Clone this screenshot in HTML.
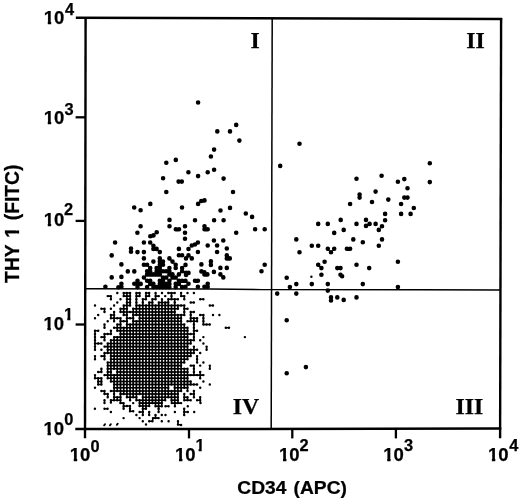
<!DOCTYPE html><html><head><meta charset="utf-8"><title>Scatter plot</title>
<style>html,body{margin:0;padding:0;background:#fff}svg{display:block}</style></head><body>
<svg width="520" height="502">
<rect width="520" height="502" fill="#fff"/>
<defs><clipPath id="c1"><path d="M-2 -20H30V6H10.4V-2.5H7.35V6H3.95V-2.5H-2Z"/></clipPath><clipPath id="c2"><path d="M-2 -20H12V-2.3H6.3V5H3.2V-2.3H-2Z"/></clipPath><clipPath id="c3"><path d="M-5 -25H125V8H56V-3.1H52.4V8H49.4V-3.1H45.2V8H-5Z"/></clipPath></defs>
<g stroke="#000" fill="none" stroke-linecap="butt">
<path d="M75.8 17.8 L502.2 19.0" stroke-width="2.4"/>
<path d="M75.3 429.1 L501.3 428.6" stroke-width="2.5"/>
<path d="M85.6 17 L85.0 438.2" stroke-width="2.4"/>
<path d="M501.1 18 L500.1 438.2" stroke-width="2.4"/>
<path d="M75.6 117.3 H85.3" stroke-width="2.3"/>
<path d="M75.6 220.9 H85.3" stroke-width="2.3"/>
<path d="M75.6 324.5 H85.3" stroke-width="2.3"/>
<path d="M189.0 428.5 V438.4" stroke-width="2.3"/>
<path d="M292.3 428.5 V438.4" stroke-width="2.3"/>
<path d="M395.9 428.5 V438.4" stroke-width="2.3"/>
<path d="M85 288.7 L210 289.0 L262 289.6 L420 289.75 L500.5 290.0" stroke-width="1.4"/>
<path d="M272.2 19 L271.2 428.5" stroke-width="1.5"/>
</g>
<g>
<text transform="translate(43.83,24.40) scale(1.0,1)" stroke="#000" stroke-width="0.25" font-family='"Liberation Sans", sans-serif' font-weight="bold" font-size="18.5" clip-path="url(#c1)">10</text>
<text transform="translate(64.95,14.60) scale(1.0,1)" stroke="#000" stroke-width="0.25" font-family='"Liberation Sans", sans-serif' font-weight="bold" font-size="16.4" >4</text>
<text transform="translate(43.83,124.20) scale(1.0,1)" stroke="#000" stroke-width="0.25" font-family='"Liberation Sans", sans-serif' font-weight="bold" font-size="18.5" clip-path="url(#c1)">10</text>
<text transform="translate(64.42,114.50) scale(1.0,1)" stroke="#000" stroke-width="0.25" font-family='"Liberation Sans", sans-serif' font-weight="bold" font-size="16.4" >3</text>
<text transform="translate(43.83,225.70) scale(1.0,1)" stroke="#000" stroke-width="0.25" font-family='"Liberation Sans", sans-serif' font-weight="bold" font-size="18.5" clip-path="url(#c1)">10</text>
<text transform="translate(64.03,215.40) scale(1.0,1)" stroke="#000" stroke-width="0.25" font-family='"Liberation Sans", sans-serif' font-weight="bold" font-size="16.4" >2</text>
<text transform="translate(43.43,329.90) scale(1.0,1)" stroke="#000" stroke-width="0.25" font-family='"Liberation Sans", sans-serif' font-weight="bold" font-size="18.5" clip-path="url(#c1)">10</text>
<text transform="translate(64.08,320.40) scale(1.0,1)" stroke="#000" stroke-width="0.25" font-family='"Liberation Sans", sans-serif' font-weight="bold" font-size="16.4" clip-path="url(#c2)">1</text>
<text transform="translate(43.58,434.60) scale(1.0,1)" stroke="#000" stroke-width="0.25" font-family='"Liberation Sans", sans-serif' font-weight="bold" font-size="18.5" clip-path="url(#c1)">10</text>
<text transform="translate(64.35,425.40) scale(1.0,1)" stroke="#000" stroke-width="0.25" font-family='"Liberation Sans", sans-serif' font-weight="bold" font-size="16.4" >0</text>
<text transform="translate(69.83,460.90) scale(1.0,1)" stroke="#000" stroke-width="0.25" font-family='"Liberation Sans", sans-serif' font-weight="bold" font-size="18.5" clip-path="url(#c1)">10</text>
<text transform="translate(90.60,451.70) scale(1.0,1)" stroke="#000" stroke-width="0.25" font-family='"Liberation Sans", sans-serif' font-weight="bold" font-size="16.4" >0</text>
<text transform="translate(175.08,460.90) scale(1.0,1)" stroke="#000" stroke-width="0.25" font-family='"Liberation Sans", sans-serif' font-weight="bold" font-size="18.5" clip-path="url(#c1)">10</text>
<text transform="translate(195.38,451.25) scale(1.0,1)" stroke="#000" stroke-width="0.25" font-family='"Liberation Sans", sans-serif' font-weight="bold" font-size="16.4" clip-path="url(#c2)">1</text>
<text transform="translate(279.08,460.90) scale(1.0,1)" stroke="#000" stroke-width="0.25" font-family='"Liberation Sans", sans-serif' font-weight="bold" font-size="18.5" clip-path="url(#c1)">10</text>
<text transform="translate(299.43,451.25) scale(1.0,1)" stroke="#000" stroke-width="0.25" font-family='"Liberation Sans", sans-serif' font-weight="bold" font-size="16.4" >2</text>
<text transform="translate(383.23,460.90) scale(1.0,1)" stroke="#000" stroke-width="0.25" font-family='"Liberation Sans", sans-serif' font-weight="bold" font-size="18.5" clip-path="url(#c1)">10</text>
<text transform="translate(404.02,451.05) scale(1.0,1)" stroke="#000" stroke-width="0.25" font-family='"Liberation Sans", sans-serif' font-weight="bold" font-size="16.4" >3</text>
<text transform="translate(487.93,460.60) scale(1.0,1)" stroke="#000" stroke-width="0.25" font-family='"Liberation Sans", sans-serif' font-weight="bold" font-size="18.5" clip-path="url(#c1)">10</text>
<text transform="translate(509.15,450.70) scale(1.0,1)" stroke="#000" stroke-width="0.25" font-family='"Liberation Sans", sans-serif' font-weight="bold" font-size="16.4" >4</text>
<text transform="translate(237.34,494.00) scale(1.045,1)" stroke="#000" stroke-width="0.25" font-family='"Liberation Sans", sans-serif' font-weight="bold" font-size="18.4" word-spacing="1.7">CD34 (APC)</text>
<text transform="translate(18.9,282.9) rotate(-90) scale(1.0,1)" word-spacing="1.5" clip-path="url(#c3)" stroke="#000" stroke-width="0.25" font-family='"Liberation Sans", sans-serif' font-weight="bold" font-size="19.3">THY 1 (FITC)</text>
<text transform="translate(250.60,48.30) scale(1.0,1)" stroke="#000" stroke-width="0.25" font-family='"Liberation Serif", serif' font-weight="bold" font-size="23.8" >I</text>
<text transform="translate(466.20,48.40) scale(1.0,1)" stroke="#000" stroke-width="0.25" font-family='"Liberation Serif", serif' font-weight="bold" font-size="23.8" >II</text>
<text transform="translate(455.60,414.00) scale(1.0,1)" stroke="#000" stroke-width="0.25" font-family='"Liberation Serif", serif' font-weight="bold" font-size="23.8" >III</text>
<text transform="translate(232.80,414.20) scale(1.0,1)" stroke="#000" stroke-width="0.25" font-family='"Liberation Serif", serif' font-weight="bold" font-size="23.8" >IV</text>
</g>
<path d="M95.0 305.5h0M95.0 318.2h0M95.0 330.8h0M95.0 334.0h0M95.0 337.1h0M95.0 340.3h0M95.0 343.5h0M95.0 346.6h0M95.0 349.8h0M95.0 356.1h0M95.0 359.3h0M95.0 375.1h0M95.0 378.2h0M95.0 387.7h0M98.2 315.0h0M98.2 330.8h0M98.2 343.5h0M98.2 371.9h0M98.2 378.2h0M98.2 381.4h0M98.2 384.5h0M101.4 308.7h0M101.4 337.1h0M101.4 343.5h0M101.4 349.8h0M101.4 356.1h0M101.4 368.7h0M101.4 371.9h0M101.4 378.2h0M101.4 381.4h0M101.4 384.5h0M101.4 390.9h0M104.5 308.7h0M104.5 311.9h0M104.5 324.5h0M104.5 327.7h0M104.5 334.0h0M104.5 337.1h0M104.5 340.3h0M104.5 346.6h0M104.5 352.9h0M104.5 356.1h0M104.5 359.3h0M104.5 375.1h0M104.5 390.9h0M104.5 394.0h0M104.5 400.3h0M107.7 296.1h0M107.7 321.3h0M107.7 334.0h0M107.7 343.5h0M107.7 346.6h0M107.7 349.8h0M107.7 352.9h0M107.7 362.4h0M107.7 365.6h0M107.7 368.7h0M107.7 371.9h0M107.7 375.1h0M107.7 378.2h0M107.7 394.0h0M107.7 397.2h0M110.9 296.1h0M110.9 299.2h0M110.9 308.7h0M110.9 315.0h0M110.9 318.2h0M110.9 330.8h0M110.9 334.0h0M110.9 340.3h0M110.9 343.5h0M110.9 346.6h0M110.9 349.8h0M110.9 352.9h0M110.9 356.1h0M110.9 359.3h0M110.9 362.4h0M110.9 365.6h0M110.9 368.7h0M110.9 371.9h0M110.9 375.1h0M110.9 378.2h0M110.9 381.4h0M110.9 390.9h0M110.9 400.3h0M114.1 305.5h0M114.1 311.9h0M114.1 315.0h0M114.1 318.2h0M114.1 321.3h0M114.1 327.7h0M114.1 337.1h0M114.1 340.3h0M114.1 343.5h0M114.1 346.6h0M114.1 349.8h0M114.1 352.9h0M114.1 356.1h0M114.1 359.3h0M114.1 362.4h0M114.1 365.6h0M114.1 368.7h0M114.1 375.1h0M114.1 378.2h0M114.1 381.4h0M114.1 384.5h0M114.1 387.7h0M114.1 390.9h0M114.1 394.0h0M114.1 397.2h0M114.1 400.3h0M117.3 292.9h0M117.3 302.4h0M117.3 318.2h0M117.3 324.5h0M117.3 327.7h0M117.3 330.8h0M117.3 337.1h0M117.3 340.3h0M117.3 343.5h0M117.3 346.6h0M117.3 349.8h0M117.3 352.9h0M117.3 356.1h0M117.3 359.3h0M117.3 362.4h0M117.3 365.6h0M117.3 368.7h0M117.3 371.9h0M117.3 375.1h0M117.3 378.2h0M117.3 381.4h0M117.3 384.5h0M117.3 387.7h0M117.3 390.9h0M117.3 397.2h0M117.3 400.3h0M120.5 299.2h0M120.5 308.7h0M120.5 311.9h0M120.5 318.2h0M120.5 321.3h0M120.5 324.5h0M120.5 327.7h0M120.5 330.8h0M120.5 334.0h0M120.5 337.1h0M120.5 340.3h0M120.5 343.5h0M120.5 346.6h0M120.5 349.8h0M120.5 352.9h0M120.5 356.1h0M120.5 359.3h0M120.5 362.4h0M120.5 365.6h0M120.5 368.7h0M120.5 371.9h0M120.5 375.1h0M120.5 378.2h0M120.5 381.4h0M120.5 384.5h0M120.5 387.7h0M120.5 390.9h0M120.5 394.0h0M120.5 397.2h0M120.5 400.3h0M123.7 292.9h0M123.7 296.1h0M123.7 305.5h0M123.7 308.7h0M123.7 311.9h0M123.7 315.0h0M123.7 321.3h0M123.7 327.7h0M123.7 330.8h0M123.7 334.0h0M123.7 337.1h0M123.7 340.3h0M123.7 343.5h0M123.7 346.6h0M123.7 349.8h0M123.7 352.9h0M123.7 356.1h0M123.7 359.3h0M123.7 362.4h0M123.7 365.6h0M123.7 368.7h0M123.7 371.9h0M123.7 375.1h0M123.7 378.2h0M123.7 381.4h0M123.7 384.5h0M123.7 387.7h0M123.7 390.9h0M123.7 394.0h0M126.9 292.9h0M126.9 296.1h0M126.9 299.2h0M126.9 302.4h0M126.9 305.5h0M126.9 308.7h0M126.9 311.9h0M126.9 315.0h0M126.9 318.2h0M126.9 321.3h0M126.9 324.5h0M126.9 327.7h0M126.9 330.8h0M126.9 334.0h0M126.9 337.1h0M126.9 340.3h0M126.9 343.5h0M126.9 346.6h0M126.9 349.8h0M126.9 352.9h0M126.9 356.1h0M126.9 359.3h0M126.9 362.4h0M126.9 365.6h0M126.9 368.7h0M126.9 371.9h0M126.9 375.1h0M126.9 378.2h0M126.9 381.4h0M126.9 384.5h0M126.9 387.7h0M126.9 390.9h0M126.9 394.0h0M126.9 397.2h0M130.1 292.9h0M130.1 296.1h0M130.1 299.2h0M130.1 302.4h0M130.1 305.5h0M130.1 311.9h0M130.1 318.2h0M130.1 324.5h0M130.1 327.7h0M130.1 330.8h0M130.1 334.0h0M130.1 337.1h0M130.1 340.3h0M130.1 343.5h0M130.1 346.6h0M130.1 349.8h0M130.1 352.9h0M130.1 356.1h0M130.1 359.3h0M130.1 362.4h0M130.1 365.6h0M130.1 368.7h0M130.1 371.9h0M130.1 375.1h0M130.1 378.2h0M130.1 381.4h0M130.1 384.5h0M130.1 387.7h0M130.1 390.9h0M130.1 394.0h0M130.1 397.2h0M130.1 400.3h0M133.2 308.7h0M133.2 311.9h0M133.2 315.0h0M133.2 318.2h0M133.2 321.3h0M133.2 324.5h0M133.2 327.7h0M133.2 330.8h0M133.2 334.0h0M133.2 337.1h0M133.2 340.3h0M133.2 343.5h0M133.2 346.6h0M133.2 349.8h0M133.2 352.9h0M133.2 356.1h0M133.2 359.3h0M133.2 362.4h0M133.2 365.6h0M133.2 368.7h0M133.2 371.9h0M133.2 375.1h0M133.2 378.2h0M133.2 381.4h0M133.2 384.5h0M133.2 387.7h0M133.2 390.9h0M133.2 394.0h0M133.2 397.2h0M136.4 292.9h0M136.4 296.1h0M136.4 299.2h0M136.4 302.4h0M136.4 305.5h0M136.4 308.7h0M136.4 311.9h0M136.4 315.0h0M136.4 321.3h0M136.4 324.5h0M136.4 327.7h0M136.4 330.8h0M136.4 334.0h0M136.4 337.1h0M136.4 340.3h0M136.4 343.5h0M136.4 346.6h0M136.4 349.8h0M136.4 352.9h0M136.4 356.1h0M136.4 359.3h0M136.4 362.4h0M136.4 365.6h0M136.4 368.7h0M136.4 371.9h0M136.4 375.1h0M136.4 378.2h0M136.4 381.4h0M136.4 384.5h0M136.4 387.7h0M136.4 390.9h0M136.4 394.0h0M136.4 397.2h0M136.4 400.3h0M139.6 292.9h0M139.6 296.1h0M139.6 305.5h0M139.6 308.7h0M139.6 311.9h0M139.6 315.0h0M139.6 318.2h0M139.6 321.3h0M139.6 324.5h0M139.6 327.7h0M139.6 330.8h0M139.6 334.0h0M139.6 337.1h0M139.6 340.3h0M139.6 343.5h0M139.6 346.6h0M139.6 349.8h0M139.6 352.9h0M139.6 356.1h0M139.6 359.3h0M139.6 362.4h0M139.6 365.6h0M139.6 368.7h0M139.6 371.9h0M139.6 375.1h0M139.6 378.2h0M139.6 381.4h0M139.6 384.5h0M139.6 387.7h0M139.6 390.9h0M139.6 394.0h0M139.6 400.3h0M142.8 299.2h0M142.8 302.4h0M142.8 305.5h0M142.8 308.7h0M142.8 311.9h0M142.8 315.0h0M142.8 318.2h0M142.8 321.3h0M142.8 324.5h0M142.8 327.7h0M142.8 330.8h0M142.8 334.0h0M142.8 337.1h0M142.8 340.3h0M142.8 343.5h0M142.8 346.6h0M142.8 349.8h0M142.8 352.9h0M142.8 356.1h0M142.8 359.3h0M142.8 362.4h0M142.8 365.6h0M142.8 368.7h0M142.8 371.9h0M142.8 375.1h0M142.8 378.2h0M142.8 381.4h0M142.8 384.5h0M142.8 387.7h0M142.8 390.9h0M142.8 394.0h0M142.8 397.2h0M142.8 400.3h0M146.0 292.9h0M146.0 296.1h0M146.0 299.2h0M146.0 305.5h0M146.0 308.7h0M146.0 311.9h0M146.0 315.0h0M146.0 318.2h0M146.0 321.3h0M146.0 324.5h0M146.0 327.7h0M146.0 330.8h0M146.0 334.0h0M146.0 337.1h0M146.0 340.3h0M146.0 343.5h0M146.0 346.6h0M146.0 349.8h0M146.0 352.9h0M146.0 356.1h0M146.0 359.3h0M146.0 362.4h0M146.0 365.6h0M146.0 368.7h0M146.0 371.9h0M146.0 375.1h0M146.0 378.2h0M146.0 381.4h0M146.0 384.5h0M146.0 387.7h0M146.0 390.9h0M146.0 394.0h0M146.0 397.2h0M146.0 400.3h0M149.2 292.9h0M149.2 296.1h0M149.2 302.4h0M149.2 305.5h0M149.2 308.7h0M149.2 311.9h0M149.2 315.0h0M149.2 318.2h0M149.2 321.3h0M149.2 324.5h0M149.2 327.7h0M149.2 330.8h0M149.2 334.0h0M149.2 337.1h0M149.2 340.3h0M149.2 343.5h0M149.2 346.6h0M149.2 349.8h0M149.2 352.9h0M149.2 356.1h0M149.2 359.3h0M149.2 362.4h0M149.2 365.6h0M149.2 368.7h0M149.2 371.9h0M149.2 375.1h0M149.2 378.2h0M149.2 381.4h0M149.2 384.5h0M149.2 387.7h0M149.2 390.9h0M149.2 394.0h0M149.2 397.2h0M149.2 400.3h0M152.4 299.2h0M152.4 302.4h0M152.4 305.5h0M152.4 308.7h0M152.4 311.9h0M152.4 315.0h0M152.4 318.2h0M152.4 321.3h0M152.4 324.5h0M152.4 327.7h0M152.4 330.8h0M152.4 334.0h0M152.4 337.1h0M152.4 340.3h0M152.4 343.5h0M152.4 346.6h0M152.4 349.8h0M152.4 352.9h0M152.4 356.1h0M152.4 359.3h0M152.4 362.4h0M152.4 365.6h0M152.4 368.7h0M152.4 371.9h0M152.4 375.1h0M152.4 378.2h0M152.4 381.4h0M152.4 384.5h0M152.4 387.7h0M152.4 390.9h0M152.4 394.0h0M152.4 397.2h0M152.4 400.3h0M155.6 292.9h0M155.6 296.1h0M155.6 299.2h0M155.6 305.5h0M155.6 308.7h0M155.6 311.9h0M155.6 315.0h0M155.6 318.2h0M155.6 321.3h0M155.6 324.5h0M155.6 327.7h0M155.6 330.8h0M155.6 334.0h0M155.6 337.1h0M155.6 340.3h0M155.6 343.5h0M155.6 346.6h0M155.6 349.8h0M155.6 352.9h0M155.6 356.1h0M155.6 359.3h0M155.6 362.4h0M155.6 365.6h0M155.6 368.7h0M155.6 371.9h0M155.6 375.1h0M155.6 378.2h0M155.6 381.4h0M155.6 384.5h0M155.6 387.7h0M155.6 390.9h0M155.6 394.0h0M155.6 397.2h0M155.6 400.3h0M158.8 296.1h0M158.8 302.4h0M158.8 305.5h0M158.8 308.7h0M158.8 311.9h0M158.8 315.0h0M158.8 318.2h0M158.8 321.3h0M158.8 324.5h0M158.8 327.7h0M158.8 330.8h0M158.8 334.0h0M158.8 337.1h0M158.8 340.3h0M158.8 343.5h0M158.8 346.6h0M158.8 349.8h0M158.8 352.9h0M158.8 356.1h0M158.8 359.3h0M158.8 362.4h0M158.8 365.6h0M158.8 368.7h0M158.8 371.9h0M158.8 375.1h0M158.8 378.2h0M158.8 381.4h0M158.8 384.5h0M158.8 387.7h0M158.8 390.9h0M158.8 394.0h0M158.8 397.2h0M158.8 400.3h0M162.0 292.9h0M162.0 299.2h0M162.0 302.4h0M162.0 305.5h0M162.0 308.7h0M162.0 311.9h0M162.0 315.0h0M162.0 318.2h0M162.0 321.3h0M162.0 324.5h0M162.0 327.7h0M162.0 330.8h0M162.0 334.0h0M162.0 337.1h0M162.0 340.3h0M162.0 343.5h0M162.0 346.6h0M162.0 349.8h0M162.0 352.9h0M162.0 356.1h0M162.0 359.3h0M162.0 362.4h0M162.0 365.6h0M162.0 368.7h0M162.0 371.9h0M162.0 375.1h0M162.0 378.2h0M162.0 381.4h0M162.0 384.5h0M162.0 387.7h0M162.0 390.9h0M162.0 394.0h0M162.0 397.2h0M162.0 400.3h0M165.2 296.1h0M165.2 302.4h0M165.2 305.5h0M165.2 308.7h0M165.2 311.9h0M165.2 315.0h0M165.2 318.2h0M165.2 321.3h0M165.2 324.5h0M165.2 327.7h0M165.2 330.8h0M165.2 334.0h0M165.2 337.1h0M165.2 340.3h0M165.2 343.5h0M165.2 346.6h0M165.2 349.8h0M165.2 352.9h0M165.2 356.1h0M165.2 359.3h0M165.2 362.4h0M165.2 365.6h0M165.2 368.7h0M165.2 371.9h0M165.2 375.1h0M165.2 378.2h0M165.2 381.4h0M165.2 384.5h0M165.2 387.7h0M165.2 390.9h0M165.2 394.0h0M165.2 397.2h0M165.2 400.3h0M168.3 292.9h0M168.3 299.2h0M168.3 302.4h0M168.3 305.5h0M168.3 308.7h0M168.3 311.9h0M168.3 315.0h0M168.3 318.2h0M168.3 321.3h0M168.3 324.5h0M168.3 327.7h0M168.3 330.8h0M168.3 334.0h0M168.3 337.1h0M168.3 340.3h0M168.3 343.5h0M168.3 346.6h0M168.3 349.8h0M168.3 352.9h0M168.3 356.1h0M168.3 359.3h0M168.3 362.4h0M168.3 365.6h0M168.3 368.7h0M168.3 371.9h0M168.3 375.1h0M168.3 378.2h0M168.3 381.4h0M168.3 384.5h0M168.3 387.7h0M168.3 390.9h0M168.3 394.0h0M168.3 397.2h0M171.5 292.9h0M171.5 296.1h0M171.5 299.2h0M171.5 305.5h0M171.5 308.7h0M171.5 311.9h0M171.5 315.0h0M171.5 318.2h0M171.5 321.3h0M171.5 324.5h0M171.5 327.7h0M171.5 330.8h0M171.5 334.0h0M171.5 337.1h0M171.5 340.3h0M171.5 343.5h0M171.5 346.6h0M171.5 349.8h0M171.5 352.9h0M171.5 356.1h0M171.5 359.3h0M171.5 362.4h0M171.5 365.6h0M171.5 368.7h0M171.5 371.9h0M171.5 375.1h0M171.5 378.2h0M171.5 381.4h0M171.5 384.5h0M171.5 390.9h0M171.5 394.0h0M171.5 397.2h0M171.5 400.3h0M174.7 292.9h0M174.7 299.2h0M174.7 302.4h0M174.7 305.5h0M174.7 308.7h0M174.7 311.9h0M174.7 315.0h0M174.7 318.2h0M174.7 321.3h0M174.7 324.5h0M174.7 327.7h0M174.7 330.8h0M174.7 334.0h0M174.7 337.1h0M174.7 340.3h0M174.7 343.5h0M174.7 346.6h0M174.7 349.8h0M174.7 352.9h0M174.7 356.1h0M174.7 359.3h0M174.7 362.4h0M174.7 365.6h0M174.7 368.7h0M174.7 371.9h0M174.7 375.1h0M174.7 378.2h0M174.7 381.4h0M174.7 384.5h0M174.7 387.7h0M174.7 390.9h0M174.7 394.0h0M174.7 397.2h0M174.7 400.3h0M177.9 299.2h0M177.9 305.5h0M177.9 308.7h0M177.9 315.0h0M177.9 318.2h0M177.9 321.3h0M177.9 324.5h0M177.9 327.7h0M177.9 330.8h0M177.9 334.0h0M177.9 337.1h0M177.9 340.3h0M177.9 343.5h0M177.9 346.6h0M177.9 349.8h0M177.9 352.9h0M177.9 356.1h0M177.9 359.3h0M177.9 362.4h0M177.9 365.6h0M177.9 368.7h0M177.9 371.9h0M177.9 375.1h0M177.9 378.2h0M177.9 381.4h0M177.9 384.5h0M177.9 387.7h0M177.9 390.9h0M177.9 394.0h0M177.9 397.2h0M177.9 400.3h0M181.1 292.9h0M181.1 296.1h0M181.1 305.5h0M181.1 315.0h0M181.1 318.2h0M181.1 321.3h0M181.1 324.5h0M181.1 327.7h0M181.1 330.8h0M181.1 334.0h0M181.1 337.1h0M181.1 340.3h0M181.1 343.5h0M181.1 346.6h0M181.1 349.8h0M181.1 352.9h0M181.1 356.1h0M181.1 359.3h0M181.1 362.4h0M181.1 365.6h0M181.1 368.7h0M181.1 371.9h0M181.1 375.1h0M181.1 378.2h0M181.1 381.4h0M181.1 384.5h0M181.1 387.7h0M181.1 390.9h0M184.3 296.1h0M184.3 299.2h0M184.3 305.5h0M184.3 308.7h0M184.3 311.9h0M184.3 315.0h0M184.3 324.5h0M184.3 327.7h0M184.3 330.8h0M184.3 334.0h0M184.3 337.1h0M184.3 340.3h0M184.3 343.5h0M184.3 346.6h0M184.3 349.8h0M184.3 352.9h0M184.3 356.1h0M184.3 359.3h0M184.3 362.4h0M184.3 368.7h0M184.3 371.9h0M184.3 375.1h0M184.3 378.2h0M184.3 381.4h0M184.3 384.5h0M184.3 387.7h0M184.3 394.0h0M184.3 397.2h0M184.3 400.3h0M187.5 292.9h0M187.5 308.7h0M187.5 321.3h0M187.5 327.7h0M187.5 330.8h0M187.5 334.0h0M187.5 337.1h0M187.5 340.3h0M187.5 343.5h0M187.5 346.6h0M187.5 349.8h0M187.5 352.9h0M187.5 356.1h0M187.5 359.3h0M187.5 368.7h0M187.5 371.9h0M187.5 375.1h0M187.5 378.2h0M187.5 381.4h0M187.5 384.5h0M187.5 387.7h0M187.5 390.9h0M187.5 397.2h0M187.5 400.3h0M190.7 302.4h0M190.7 311.9h0M190.7 315.0h0M190.7 318.2h0M190.7 321.3h0M190.7 334.0h0M190.7 340.3h0M190.7 343.5h0M190.7 349.8h0M190.7 352.9h0M190.7 356.1h0M190.7 365.6h0M190.7 375.1h0M190.7 381.4h0M190.7 384.5h0M190.7 394.0h0M190.7 400.3h0M193.9 292.9h0M193.9 302.4h0M193.9 311.9h0M193.9 318.2h0M193.9 321.3h0M193.9 324.5h0M193.9 327.7h0M193.9 330.8h0M193.9 334.0h0M193.9 337.1h0M193.9 340.3h0M193.9 346.6h0M193.9 349.8h0M193.9 352.9h0M193.9 365.6h0M193.9 368.7h0M193.9 371.9h0M193.9 375.1h0M193.9 384.5h0M193.9 390.9h0M193.9 394.0h0M193.9 397.2h0M197.1 318.2h0M197.1 321.3h0M197.1 330.8h0M197.1 349.8h0M197.1 356.1h0M197.1 359.3h0M197.1 362.4h0M197.1 375.1h0M197.1 384.5h0M197.1 400.3h0M200.2 299.2h0M200.2 315.0h0M200.2 340.3h0M200.2 352.9h0M200.2 365.6h0M200.2 371.9h0M200.2 375.1h0M200.2 378.2h0M200.2 387.7h0M200.2 397.2h0M200.2 400.3h0M203.4 299.2h0M203.4 315.0h0M203.4 318.2h0M203.4 321.3h0M203.4 324.5h0M203.4 337.1h0M203.4 343.5h0M203.4 362.4h0M203.4 375.1h0M203.4 381.4h0M206.6 324.5h0M206.6 346.6h0M206.6 349.8h0M209.8 305.5h0M209.8 324.5h0M209.8 365.6h0M209.8 368.7h0M209.8 384.5h0M213.0 305.5h0M213.0 315.0h0M219.4 315.0h0M225.8 327.7h0M229.0 327.7h0M244.9 337.1h0M104.5 403.1h0M110.9 402.5h0M120.4 403.1h0M123.6 403.1h0M133.2 403.1h0M139.6 403.1h0M142.8 403.1h0M146.0 403.1h0M149.2 403.1h0M152.4 403.1h0M123.6 406.2h0M126.9 406.0h0M130.0 406.0h0M139.6 406.0h0M142.8 406.0h0M146.0 406.0h0M149.2 406.0h0M94.9 408.8h0M104.5 408.8h0M107.6 408.8h0M123.6 408.8h0M130.0 408.8h0M142.8 408.8h0M146.0 408.8h0M110.9 411.9h0M130.0 411.2h0M133.2 411.2h0M139.6 411.9h0M142.8 411.9h0M149.2 411.9h0M136.4 415.0h0M142.8 415.0h0M149.2 415.0h0M123.6 418.1h0M139.6 418.1h0M142.8 421.2h0M149.2 421.2h0M152.4 421.2h0M146.0 424.4h0M155.5 403.1h0M158.6 403.1h0M161.8 403.1h0M171.8 403.1h0M174.9 403.1h0M178.0 403.1h0M181.1 403.1h0M200.5 403.1h0M155.5 406.2h0M158.6 406.2h0M161.8 406.2h0M165.5 406.2h0M168.6 406.2h0M174.9 406.2h0M187.8 406.2h0M158.6 408.8h0M184.2 408.8h0M158.6 411.9h0M174.9 411.9h0M184.2 411.9h0M187.8 411.9h0M194.2 411.9h0M155.5 415.0h0M161.8 415.0h0M165.5 415.0h0M184.2 415.0h0M153.0 418.1h0M155.5 418.1h0M158.6 418.1h0M161.8 421.2h0M168.6 421.2h0M178.0 421.2h0M178.0 424.4h0M181.1 425.0h0M311.4 276.7h0" stroke="#000" stroke-width="2.45" stroke-linecap="round" fill="none"/>
<path d="M123.7 292.9H130.1M136.4 292.9H139.6M146.0 292.9H149.2M168.3 292.9H174.7M107.7 296.1H110.9M123.7 296.1H130.1M136.4 296.1H139.6M146.0 296.1H149.2M155.6 296.1H158.8M181.1 296.1H184.3M126.9 299.2H130.1M142.8 299.2H146.0M152.4 299.2H155.6M168.3 299.2H177.9M200.2 299.2H203.4M126.9 302.4H130.1M149.2 302.4H152.4M158.8 302.4H168.3M190.7 302.4H193.9M123.7 305.5H130.1M136.4 305.5H184.3M209.8 305.5H213.0M101.4 308.7H104.5M120.5 308.7H126.9M133.2 308.7H177.9M184.3 308.7H187.5M120.5 311.9H174.7M190.7 311.9H193.9M110.9 315.0H114.1M123.7 315.0H126.9M133.2 315.0H184.3M200.2 315.0H203.4M110.9 318.2H120.5M126.9 318.2H133.2M139.6 318.2H181.1M190.7 318.2H197.1M120.5 321.3H126.9M133.2 321.3H181.1M187.5 321.3H197.1M117.3 324.5H120.5M126.9 324.5H184.3M203.4 324.5H209.8M114.1 327.7H187.5M225.8 327.7H229.0M95.0 330.8H98.2M117.3 330.8H187.5M193.9 330.8H197.1M104.5 334.0H110.9M120.5 334.0H193.9M101.4 337.1H104.5M114.1 337.1H187.5M110.9 340.3H193.9M95.0 343.5H101.4M107.7 343.5H190.7M104.5 346.6H187.5M107.7 349.8H197.1M104.5 352.9H193.9M101.4 356.1H104.5M110.9 356.1H190.7M110.9 359.3H187.5M107.7 362.4H184.3M107.7 365.6H181.1M190.7 365.6H193.9M107.7 368.7H187.5M98.2 371.9H101.4M107.7 371.9H110.9M117.3 371.9H187.5M104.5 375.1H203.4M95.0 378.2H101.4M107.7 378.2H187.5M98.2 381.4H101.4M110.9 381.4H190.7M98.2 384.5H101.4M114.1 384.5H197.1M114.1 387.7H168.3M174.7 387.7H187.5M101.4 390.9H104.5M110.9 390.9H181.1M104.5 394.0H107.7M120.5 394.0H177.9M190.7 394.0H193.9M114.1 397.2H120.5M126.9 397.2H136.4M142.8 397.2H177.9M184.3 397.2H187.5M110.9 400.3H120.5M136.4 400.3H165.2M171.5 400.3H177.9M184.3 400.3H190.7M197.1 400.3H200.2M95.0 330.8V349.8M95.0 356.1V359.3M95.0 375.1V378.2M98.2 378.2V384.5M101.4 368.7V371.9M101.4 378.2V384.5M104.5 308.7V311.9M104.5 324.5V327.7M104.5 334.0V340.3M104.5 352.9V359.3M104.5 390.9V394.0M107.7 343.5V352.9M107.7 362.4V378.2M107.7 394.0V397.2M110.9 296.1V299.2M110.9 315.0V318.2M110.9 330.8V334.0M110.9 340.3V381.4M114.1 311.9V321.3M114.1 337.1V368.7M114.1 375.1V400.3M117.3 324.5V330.8M117.3 337.1V390.9M117.3 397.2V400.3M120.5 308.7V311.9M120.5 318.2V400.3M123.7 292.9V296.1M123.7 305.5V315.0M123.7 327.7V394.0M126.9 292.9V397.2M130.1 292.9V305.5M130.1 324.5V400.3M133.2 308.7V397.2M136.4 292.9V315.0M136.4 321.3V400.3M139.6 292.9V296.1M139.6 305.5V394.0M142.8 299.2V400.3M146.0 292.9V299.2M146.0 305.5V400.3M149.2 292.9V296.1M149.2 302.4V400.3M152.4 299.2V400.3M155.6 292.9V299.2M155.6 305.5V400.3M158.8 302.4V400.3M162.0 299.2V400.3M165.2 302.4V400.3M168.3 299.2V397.2M171.5 292.9V299.2M171.5 305.5V384.5M171.5 390.9V400.3M174.7 299.2V400.3M177.9 305.5V308.7M177.9 315.0V400.3M181.1 292.9V296.1M181.1 315.0V390.9M184.3 296.1V299.2M184.3 305.5V315.0M184.3 324.5V362.4M184.3 368.7V387.7M184.3 394.0V400.3M187.5 327.7V359.3M187.5 368.7V390.9M187.5 397.2V400.3M190.7 311.9V321.3M190.7 340.3V343.5M190.7 349.8V356.1M190.7 381.4V384.5M193.9 318.2V340.3M193.9 346.6V352.9M193.9 365.6V375.1M193.9 390.9V397.2M197.1 318.2V321.3M197.1 356.1V362.4M200.2 371.9V378.2M200.2 397.2V400.3M203.4 315.0V324.5M206.6 346.6V349.8M209.8 365.6V368.7M104.5 403.1L104.5 400.3M110.9 402.5L110.9 400.3M120.4 403.1L123.6 403.1M120.4 403.1L120.5 400.3M123.6 403.1L123.6 406.2M139.6 403.1L142.8 403.1M139.6 403.1L139.6 406.0M139.6 403.1L139.6 400.3M142.8 403.1L146.0 403.1M142.8 403.1L142.8 406.0M142.8 403.1L142.8 400.3M146.0 403.1L149.2 403.1M146.0 403.1L146.0 406.0M146.0 403.1L146.0 400.3M149.2 403.1L152.4 403.1M149.2 403.1L149.2 406.0M149.2 403.1L149.2 400.3M152.4 403.1L155.5 403.1M152.4 403.1L152.4 400.3M123.6 406.2L126.9 406.0M123.6 406.2L123.6 408.8M126.9 406.0L130.0 406.0M130.0 406.0L130.0 408.8M139.6 406.0L142.8 406.0M142.8 406.0L146.0 406.0M142.8 406.0L142.8 408.8M146.0 406.0L149.2 406.0M146.0 406.0L146.0 408.8M104.5 408.8L107.6 408.8M130.0 408.8L130.0 411.2M142.8 408.8L146.0 408.8M142.8 408.8L142.8 411.9M130.0 411.2L133.2 411.2M139.6 411.9L142.8 411.9M142.8 411.9L142.8 415.0M149.2 411.9L149.2 415.0M149.2 421.2L152.4 421.2M152.4 421.2L153.0 418.1M155.5 403.1L158.6 403.1M155.5 403.1L155.5 406.2M155.5 403.1L155.6 400.3M158.6 403.1L161.8 403.1M158.6 403.1L158.6 406.2M158.6 403.1L158.8 400.3M161.8 403.1L161.8 406.2M161.8 403.1L162.0 400.3M171.8 403.1L174.9 403.1M171.8 403.1L171.5 400.3M174.9 403.1L178.0 403.1M174.9 403.1L174.9 406.2M174.9 403.1L174.7 400.3M178.0 403.1L181.1 403.1M178.0 403.1L177.9 400.3M200.5 403.1L200.2 400.3M155.5 406.2L158.6 406.2M158.6 406.2L161.8 406.2M158.6 406.2L158.6 408.8M165.5 406.2L168.6 406.2M158.6 408.8L158.6 411.9M184.2 408.8L184.2 411.9M184.2 411.9L187.8 411.9M184.2 411.9L184.2 415.0M155.5 415.0L155.5 418.1M153.0 418.1L155.5 418.1M155.5 418.1L158.6 418.1M178.0 421.2L178.0 424.4M178.0 424.4L181.1 425.0" stroke="#000" stroke-width="1.55" stroke-linecap="butt" fill="none"/>
<path d="M166.3 162.7h0M175.8 159.9h0M163.1 178.2h0M178.6 181.6h0M181.8 181.6h0M198.1 102.5h0M236.2 124.9h0M217.3 131.4h0M230.0 131.4h0M239.4 140.6h0M214.1 149.6h0M210.9 156.5h0M214.1 169.7h0M188.4 172.3h0M207.7 172.3h0M198.1 176.1h0M223.6 178.6h0M280.2 165.9h0M166.3 192.0h0M150.3 203.9h0M134.2 207.5h0M140.6 210.3h0M182.0 207.5h0M169.5 219.9h0M140.6 226.3h0M169.5 226.3h0M175.8 229.2h0M179.0 229.2h0M137.4 232.8h0M156.7 232.2h0M153.5 235.4h0M150.3 236.2h0M115.1 242.5h0M131.0 248.5h0M131.0 251.8h0M111.7 255.4h0M121.4 264.4h0M127.8 271.4h0M134.3 271.4h0M111.7 277.4h0M121.4 276.9h0M121.4 283.8h0M134.3 283.8h0M105.4 286.8h0M118.4 287.3h0M121.4 286.8h0M233.0 192.0h0M201.3 201.0h0M204.5 200.4h0M198.1 203.9h0M230.0 207.9h0M220.5 210.5h0M245.8 213.5h0M252.1 216.9h0M195.0 220.3h0M214.1 220.3h0M223.6 220.3h0M185.0 226.3h0M204.5 226.3h0M204.5 229.2h0M207.7 229.2h0M255.1 229.2h0M264.7 229.2h0M185.0 232.8h0M236.2 232.8h0M185.0 238.8h0M264.7 264.7h0M261.5 271.3h0M213.9 240.5h0M223.3 240.5h0M197.9 242.5h0M195.0 244.5h0M191.8 245.5h0M188.5 249.0h0M207.7 245.5h0M217.1 245.5h0M226.8 248.5h0M197.9 252.0h0M217.1 252.0h0M188.5 255.4h0M186.0 258.4h0M191.8 258.4h0M226.8 255.4h0M226.8 258.4h0M229.8 258.4h0M210.9 261.4h0M210.9 264.9h0M201.4 264.4h0M185.5 264.9h0M220.4 267.9h0M226.8 267.9h0M201.4 271.4h0M204.4 272.4h0M207.4 274.4h0M204.4 274.4h0M213.9 271.9h0M186.0 272.9h0M188.5 272.9h0M186.0 274.9h0M220.4 274.4h0M223.3 277.4h0M195.0 280.8h0M197.9 280.8h0M185.5 280.8h0M188.5 283.8h0M207.7 283.8h0M197.9 286.8h0M204.4 286.8h0M207.7 286.8h0M185.5 286.8h0M299.5 143.8h0M356.5 178.7h0M359.6 194.6h0M359.6 197.6h0M429.8 163.3h0M381.6 175.7h0M404.3 179.1h0M397.9 181.7h0M429.8 182.1h0M407.5 188.2h0M375.6 191.6h0M404.3 197.6h0M407.5 197.6h0M388.3 199.6h0M350.1 204.0h0M340.7 219.9h0M366.0 219.9h0M318.2 223.9h0M327.8 223.9h0M356.5 223.9h0M366.0 225.9h0M369.6 223.9h0M343.7 229.9h0M334.2 232.9h0M296.3 239.4h0M353.3 239.4h0M362.8 242.2h0M311.8 245.8h0M318.2 245.8h0M327.8 248.8h0M334.2 248.8h0M331.0 252.2h0M346.9 248.8h0M350.1 248.8h0M299.5 252.2h0M324.6 261.8h0M318.2 264.7h0M321.4 268.1h0M356.5 264.7h0M337.3 268.1h0M340.5 268.1h0M369.2 268.1h0M321.4 274.7h0M340.5 274.7h0M342.1 276.3h0M286.7 277.7h0M296.3 284.1h0M311.8 284.1h0M327.8 284.1h0M362.8 284.1h0M289.9 287.1h0M372.0 202.0h0M401.1 204.0h0M413.8 208.0h0M385.1 213.9h0M401.1 213.9h0M410.6 213.9h0M385.1 220.3h0M375.6 223.9h0M382.0 226.3h0M378.8 229.9h0M382.0 239.4h0M378.8 245.8h0M397.9 261.8h0M397.9 287.1h0M327.8 290.6h0M277.2 293.6h0M296.3 293.6h0M331.0 297.4h0M331.0 300.5h0M337.3 297.4h0M343.7 299.9h0M356.5 297.4h0M286.7 320.3h0M305.9 367.1h0M286.7 373.2h0M143.9 242.5h0M150.2 242.5h0M153.4 245.7h0M153.4 248.9h0M156.6 248.9h0M178.9 248.9h0M137.5 252.1h0M143.9 252.1h0M159.8 252.1h0M178.9 255.2h0M182.1 255.2h0M143.9 258.4h0M159.8 258.4h0M169.4 258.4h0M153.4 261.6h0M159.8 261.6h0M163.0 261.6h0M172.5 261.6h0M143.9 264.8h0M147.1 264.8h0M159.8 264.8h0M163.0 264.8h0M175.7 264.8h0M150.2 268.0h0M156.6 268.0h0M159.8 268.0h0M169.4 268.0h0M175.7 268.0h0M182.1 268.0h0M147.1 271.2h0M150.2 271.2h0M156.6 271.2h0M159.8 271.2h0M163.0 271.2h0M166.2 271.2h0M169.4 271.2h0M182.1 271.2h0M147.1 274.4h0M150.2 274.4h0M153.4 274.4h0M156.6 274.4h0M159.8 274.4h0M169.4 274.4h0M172.5 274.4h0M178.9 274.4h0M143.9 277.5h0M163.0 277.5h0M166.2 277.5h0M172.5 277.5h0M175.7 277.5h0M137.5 280.7h0M147.1 280.7h0M150.2 280.7h0M159.8 280.7h0M163.0 280.7h0M169.4 280.7h0M178.9 280.7h0M182.1 280.7h0M137.5 283.9h0M140.7 283.9h0M150.2 283.9h0M153.4 283.9h0M159.8 283.9h0M163.0 283.9h0M166.2 283.9h0M169.4 283.9h0M175.7 283.9h0M178.9 283.9h0M137.5 287.1h0M147.1 287.1h0M153.4 287.1h0M156.6 287.1h0M159.8 287.1h0M163.0 287.1h0M166.2 287.1h0M169.4 287.1h0M175.7 287.1h0M182.1 287.1h0" stroke="#000" stroke-width="4.6" stroke-linecap="round" fill="none"/>
<path d="M104.1 425.3l1 -1.2M109.9 425.3l1 -1.2M116.8 424.9l1 -1.2" stroke="#000" stroke-width="1.8" stroke-linecap="round" fill="none"/>
</svg></body></html>
